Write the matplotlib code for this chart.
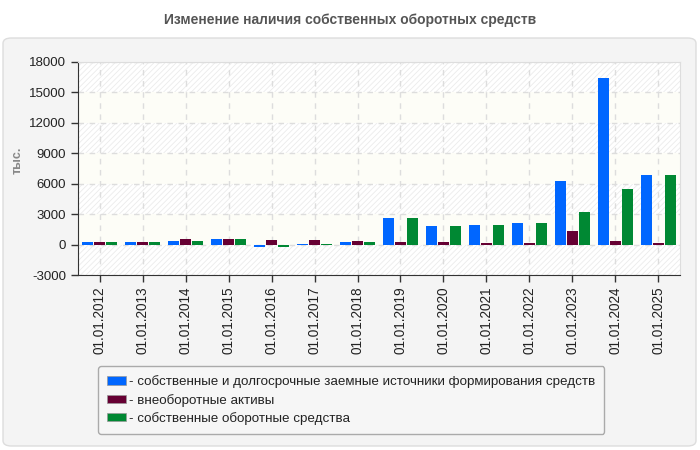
import matplotlib.pyplot as plt
from matplotlib.patches import FancyBboxPatch, Patch
import numpy as np

dates = ['01.01.2012', '01.01.2013', '01.01.2014', '01.01.2015', '01.01.2016',
         '01.01.2017', '01.01.2018', '01.01.2019', '01.01.2020', '01.01.2021',
         '01.01.2022', '01.01.2023', '01.01.2024', '01.01.2025']
own_long = [230, 295, 395, 590, -200, 100, 295, 2660, 1870, 1970, 2170, 6300, 16450, 6900]
noncurrent = [230, 230, 590, 590, 490, 490, 395, 295, 295, 200, 200, 1380, 395, 200]
own_working = [230, 295, 395, 590, -200, 100, 295, 2660, 1870, 1970, 2170, 3250, 5520, 6900]

labels = ['- собственные и долгосрочные заемные источники формирования средств',
          '- внеоборотные активы',
          '- собственные оборотные средства']
colors = ['#0066ff', '#660033', '#008833']
yticks = [-3000, 0, 3000, 6000, 9000, 12000, 15000, 18000]

plt.rcParams['font.family'] = ['Liberation Sans', 'DejaVu Sans']
plt.rcParams['hatch.color'] = '#e6e6e6'
plt.rcParams['hatch.linewidth'] = 0.6

fig = plt.figure(figsize=(7, 4.5), dpi=100)
fig.patch.set_facecolor('white')

# grey panel behind the chart
panel = FancyBboxPatch((3/700, 4/450), 693/700, 408/450,
                       boxstyle='round,pad=0,rounding_size=0.012',
                       transform=fig.transFigure, facecolor='#f4f4f4',
                       edgecolor='#dddddd', linewidth=1, zorder=-5)
fig.patches.append(panel)

fig.text(0.5, 1 - 20/450, 'Изменение наличия собственных оборотных средств',
         ha='center', va='center', fontsize=10, fontweight='bold', color='#555555')

ax = fig.add_axes([78/700, (450-275)/450, 602/700, 213/450])
ax.set_facecolor('white')
ax.set_xlim(-0.51, 13.51)
ax.set_ylim(-3000, 18000)

# striped background bands
for i in range(len(yticks) - 1):
    lo, hi = yticks[i], yticks[i + 1]
    if i % 2 == 0:
        ax.axhspan(lo, hi, facecolor='white', hatch='//////', edgecolor='#ebebeb',
                   linewidth=0, zorder=0)
    else:
        ax.axhspan(lo, hi, facecolor='#fdfdf7', linewidth=0, zorder=0)

x = np.arange(len(dates))
w = 0.255
off = 0.28
ax.bar(x - off, own_long, w, color=colors[0], zorder=3)
ax.bar(x, noncurrent, w, color=colors[1], zorder=3)
ax.bar(x + off, own_working, w, color=colors[2], zorder=3)

ax.set_xticks(x)
ax.set_xticklabels(dates, rotation=90, fontsize=9.8, color='#222222')
ax.set_yticks(yticks)
ax.set_yticklabels([str(v) for v in yticks], fontsize=9.5, color='#222222')
ax.tick_params(axis='both', length=5, color='#333333', width=1)
ax.grid(True, color='#dddddd', linestyle=(0, (4, 4)), linewidth=1, zorder=1)
ax.set_axisbelow(True)

ax.spines['left'].set_color('#333333')
ax.spines['bottom'].set_color('#333333')
ax.spines['top'].set_color('#dddddd')
ax.spines['right'].set_color('#dddddd')

fig.text(18/700, 1 - 160/450, 'тыс.', rotation=90, ha='center', va='center',
         fontsize=9, fontweight='bold', color='#888888')

handles = [Patch(facecolor=c, edgecolor='#999999', linewidth=0.5) for c in colors]
leg = fig.legend(handles, labels, loc='upper left',
                 bbox_to_anchor=(98/700, 1 - 366/450), fontsize=9.6,
                 frameon=True, fancybox=True, handlelength=1.4, handleheight=0.6,
                 handletextpad=0.2, labelspacing=0.4, borderpad=0.7,
                 borderaxespad=0)
leg.get_frame().set_facecolor('#f6f6f6')
leg.get_frame().set_edgecolor('#aaaaaa')
leg.get_frame().set_alpha(1)
for t in leg.get_texts():
    t.set_color('#222222')

fig.savefig('out.png', dpi=100)
